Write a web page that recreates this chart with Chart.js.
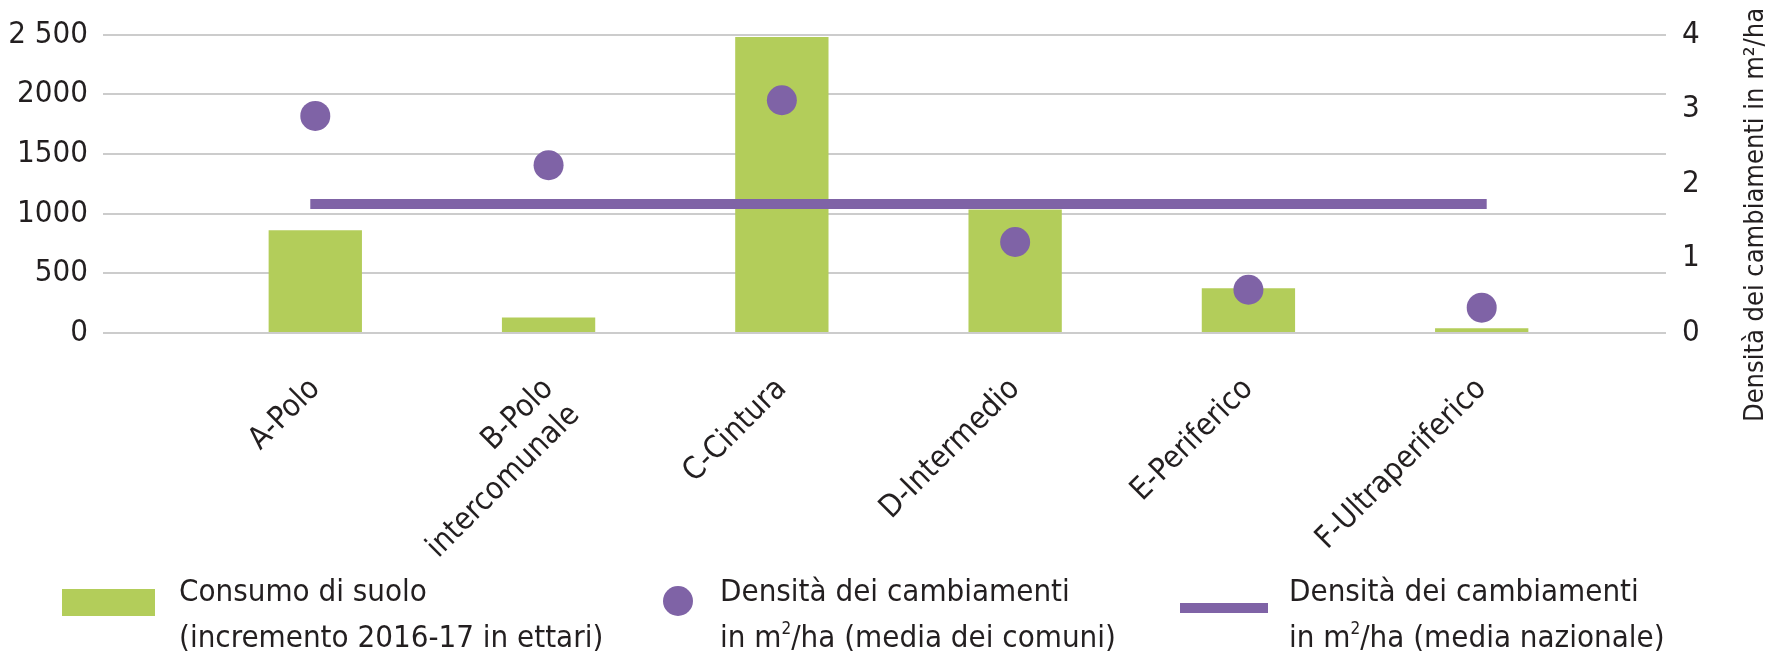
<!DOCTYPE html>
<html lang="it">
<head>
<meta charset="utf-8">
<title>Consumo di suolo e densità dei cambiamenti</title>
<script src="https://cdn.jsdelivr.net/npm/chart.js@4.4.1/dist/chart.umd.min.js"></script>
<style>
  html, body { margin: 0; padding: 0; background: #fff; }
  #wrap { position: relative; width: 1773px; height: 655px; }
  #chart { position: absolute; left: 0; top: 0; }
  .legend { font-family: 'Liberation Sans Narrow', 'DejaVu Sans Condensed', sans-serif; color: #231f20; }
  .lg-text { position: absolute; top: 567px; font-size: 31px; line-height: 46px; white-space: nowrap; }
  .lg-text sup { font-size: 17px; line-height: 0; vertical-align: 13px; }
  .sw { position: absolute; }
</style>
</head>
<body>
<div id="wrap">
  <canvas id="chart" width="1773" height="655"></canvas>
  <div class="legend">
    <div class="sw" style="left:62px; top:589px; width:93px; height:27px; background:#b3cd5a;"></div>
    <div class="lg-text" style="left:179px;">Consumo di suolo<br>(incremento 2016-17 in ettari)</div>
    <div class="sw" style="left:663px; top:586px; width:30px; height:30px; border-radius:50%; background:#7f63a6;"></div>
    <div class="lg-text" style="left:720px;">Densità dei cambiamenti<br>in m<sup>2</sup>/ha (media dei comuni)</div>
    <div class="sw" style="left:1180px; top:603px; width:88px; height:10px; background:#7f63a6;"></div>
    <div class="lg-text" style="left:1289px;">Densità dei cambiamenti<br>in m<sup>2</sup>/ha (media nazionale)</div>
  </div>
</div>
<script>
// --- Dati ---
const categories = ['A-Polo', ['B-Polo', 'intercomunale'], 'C-Cintura', 'D-Intermedio', 'E-Periferico', 'F-Ultraperiferico'];
const consumoSuolo = [860, 130, 2480, 1035, 375, 40];        // ettari
const densitaComuni = [2.91, 2.25, 3.12, 1.22, 0.58, 0.34];   // m2/ha
const densitaNazionale = 1.73;                                // m2/ha
const leftTickLabels = { 0: '0', 500: '500', 1000: '1000', 1500: '1500', 2000: '2000', 2500: '2 500' };
const rightTickLabels = ['0', '1', '2', '3', '4'];
const rightAxisTitle = 'Densità dei cambiamenti in m²/ha';

const GREEN = '#b3cd5a';
const PURPLE = '#7f63a6';
const TEXT = '#231f20';
const FONT = "'Liberation Sans Narrow', 'DejaVu Sans Condensed', sans-serif";

Chart.defaults.font.family = FONT;
Chart.defaults.font.size = 31;
Chart.defaults.color = TEXT;

// titolo asse destro, letto dal basso verso l'alto
const rightTitlePlugin = {
    id: 'rightTitle',
    afterDraw(chart) {
        const ctx = chart.ctx;
        ctx.save();
        ctx.translate(1756, 215);
        ctx.rotate(-Math.PI / 2);
        ctx.font = `27px ${FONT}`;
        ctx.fillStyle = TEXT;
        ctx.textAlign = 'center';
        ctx.textBaseline = 'middle';
        ctx.fillText(rightAxisTitle, 0, 0);
        ctx.restore();
    }
};

const toPoints = values => values.map((v, i) => ({ x: i, y: v }));

new Chart(document.getElementById('chart'), {
    type: 'bar',
    data: {
        datasets: [
            {
                type: 'line',
                label: 'Densità dei cambiamenti (media dei comuni)',
                data: toPoints(densitaComuni),
                yAxisID: 'y1',
                showLine: false,
                pointRadius: 15,
                pointHoverRadius: 15,
                pointBackgroundColor: PURPLE,
                pointBorderWidth: 0,
                order: 1
            },
            {
                type: 'line',
                label: 'Densità dei cambiamenti (media nazionale)',
                data: categories.map((c, i) => ({ x: i, y: densitaNazionale })),
                yAxisID: 'y1',
                borderColor: PURPLE,
                borderWidth: 10,
                borderCapStyle: 'square',
                pointRadius: 0,
                order: 2
            },
            {
                type: 'bar',
                label: 'Consumo di suolo',
                data: toPoints(consumoSuolo),
                yAxisID: 'y',
                backgroundColor: GREEN,
                categoryPercentage: 1,
                barPercentage: 0.4,
                order: 3
            }
        ]
    },
    options: {
        responsive: false,
        animation: false,
        layout: { padding: { top: 29, left: 0, right: 0, bottom: 0 } },
        plugins: {
            legend: { display: false },
            tooltip: { enabled: false }
        },
        scales: {
            x: {
                type: 'linear',
                offset: false,
                min: -0.91,
                max: 5.79,
                grid: { display: false },
                border: { display: false },
                ticks: {
                    stepSize: 1,
                    includeBounds: false,
                    autoSkip: false,
                    minRotation: 45,
                    maxRotation: 45,
                    padding: 30,
                    callback: v => categories[v] !== undefined ? categories[v] : ''
                },
                afterFit: s => { s.height = 322; }
            },
            y: {
                position: 'left',
                min: 0,
                max: 2500,
                grid: { color: '#cccccc', lineWidth: 2, drawTicks: false },
                border: { display: false },
                ticks: {
                    stepSize: 500,
                    padding: 15,
                    callback: v => leftTickLabels[v]
                },
                afterFit: s => { s.width = 103; }
            },
            y1: {
                position: 'right',
                min: 0,
                max: 4,
                grid: { display: false, drawTicks: false },
                border: { display: false },
                ticks: {
                    stepSize: 1,
                    padding: 16,
                    callback: v => rightTickLabels[v]
                },
                afterFit: s => { s.width = 107; }
            }
        }
    },
    plugins: [rightTitlePlugin]
});
</script>
</body>
</html>
